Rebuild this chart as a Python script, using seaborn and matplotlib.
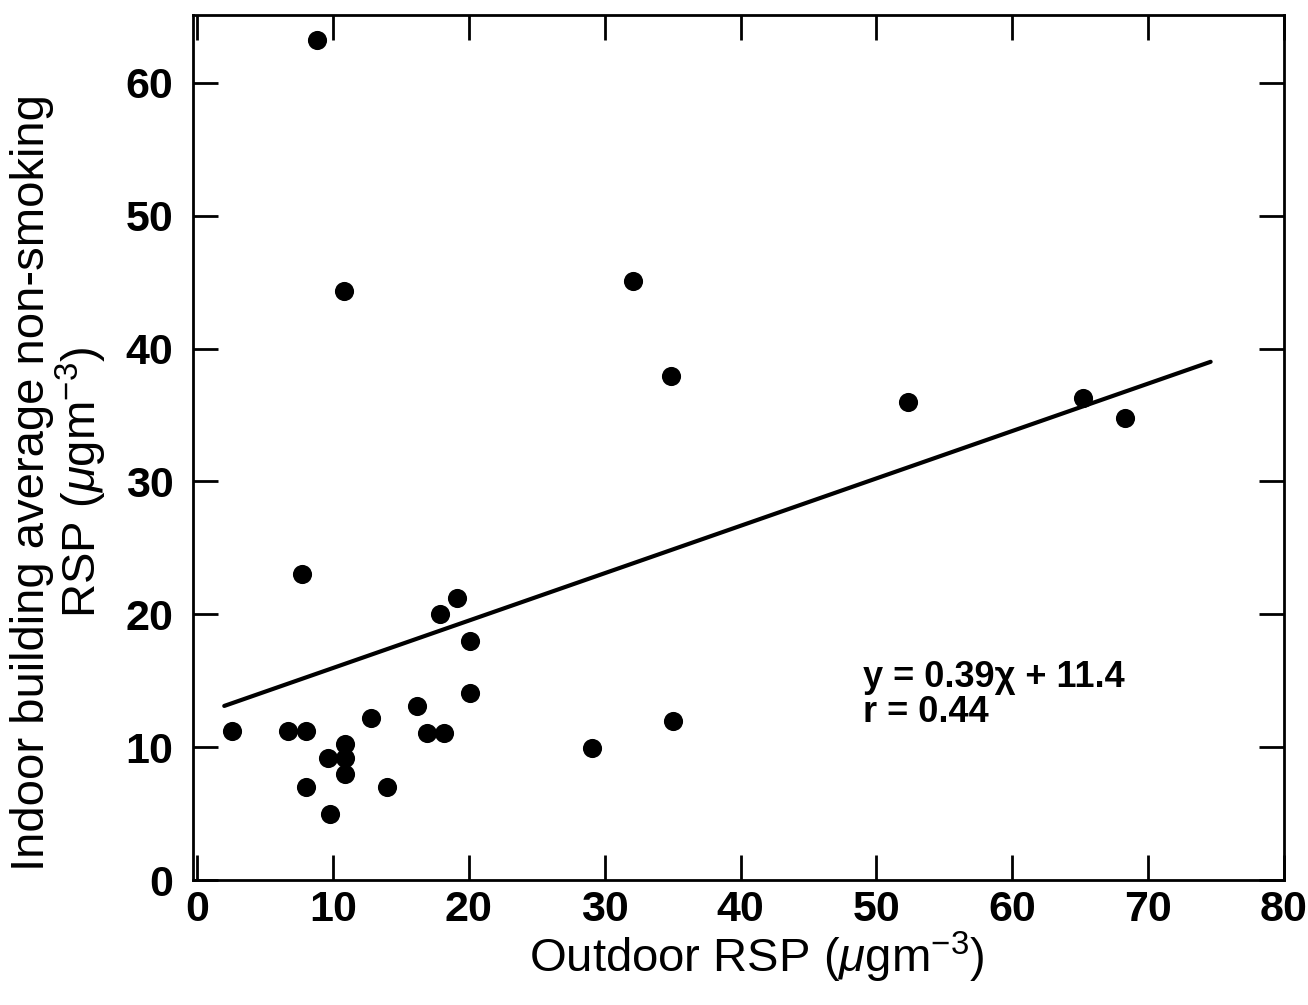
import matplotlib
matplotlib.use("Agg")
import matplotlib.pyplot as plt
import seaborn as sns
import pandas as pd

# Data
outdoor = [2.6, 6.7, 8.0, 7.7, 8.0, 8.8, 9.8, 9.6, 10.9, 10.9, 10.9, 10.8,
           12.8, 14.0, 16.2, 16.9, 18.2, 17.9, 19.1, 20.1, 20.1, 29.1,
           32.1, 34.9, 35.0, 52.3, 65.2, 68.3]
indoor = [11.2, 11.2, 11.2, 23.0, 7.0, 63.2, 5.0, 9.2, 10.2, 9.2, 8.0, 44.3,
          12.2, 7.0, 13.1, 11.1, 11.1, 20.0, 21.2, 18.0, 14.1, 9.9,
          45.1, 37.9, 12.0, 36.0, 36.3, 34.8]
fit_x = [2.0, 74.6]
fit_y = [13.1, 39.0]
x_ticks = [0, 10, 20, 30, 40, 50, 60, 70, 80]
y_ticks = [0, 10, 20, 30, 40, 50, 60]
equation_text = "y = 0.39χ + 11.4\nr = 0.44"
x_label = "Outdoor RSP ($\\mu$gm$^{-3}$)"
y_label = "Indoor building average non-smoking\nRSP ($\\mu$gm$^{-3}$)"

sns.set_theme(style="ticks")
plt.rcParams['font.family'] = ['Liberation Sans', 'DejaVu Sans']
plt.rcParams['mathtext.fontset'] = 'custom'
plt.rcParams['mathtext.rm'] = 'Liberation Sans'
plt.rcParams['mathtext.it'] = 'Liberation Sans:italic'
plt.rcParams['text.color'] = 'black'
plt.rcParams['axes.labelcolor'] = 'black'
plt.rcParams['xtick.color'] = 'black'
plt.rcParams['ytick.color'] = 'black'

fig = plt.figure(figsize=(13.08, 10.05), dpi=100)
ax = fig.add_axes([193 / 1308, 125 / 1005, (1284 - 193) / 1308, (880 - 15) / 1005])

df = pd.DataFrame({"outdoor": outdoor, "indoor": indoor})
sns.scatterplot(data=df, x="outdoor", y="indoor", ax=ax, s=190,
                color="black", edgecolor="black", linewidth=0, zorder=3)
fit = pd.DataFrame({"x": fit_x, "y": fit_y})
sns.lineplot(data=fit, x="x", y="y", ax=ax, color="black", linewidth=3.0,
             zorder=2)

ax.set_xlim(-0.3, 80)
ax.set_ylim(0.3, 65.1)
ax.set_xticks(x_ticks)
ax.set_yticks(y_ticks)
ax.tick_params(axis="both", which="major", direction="in", length=18,
               width=2.0, top=True, right=True, labelsize=31,
               color="black", labelcolor="black")
ax.tick_params(axis="y", pad=14)
ax.tick_params(axis="x", pad=7)
for lab in ax.get_xticklabels() + ax.get_yticklabels():
    lab.set_fontweight("bold")
for sp in ax.spines.values():
    sp.set_linewidth(2.0)
    sp.set_color("black")

ax.set_xlabel(x_label, fontsize=34, color="black")
ax.xaxis.set_label_coords(0.517, -0.058)
ax.set_ylabel(y_label, fontsize=34, linespacing=1.0, color="black")
ax.yaxis.set_label_coords(-0.077, 0.46)

ax.text(49.0, 13.9, equation_text, fontsize=26, fontweight="bold",
        ha="left", va="center", linespacing=1.0, color="black")

fig.savefig("out.png", dpi=100, facecolor="white")
